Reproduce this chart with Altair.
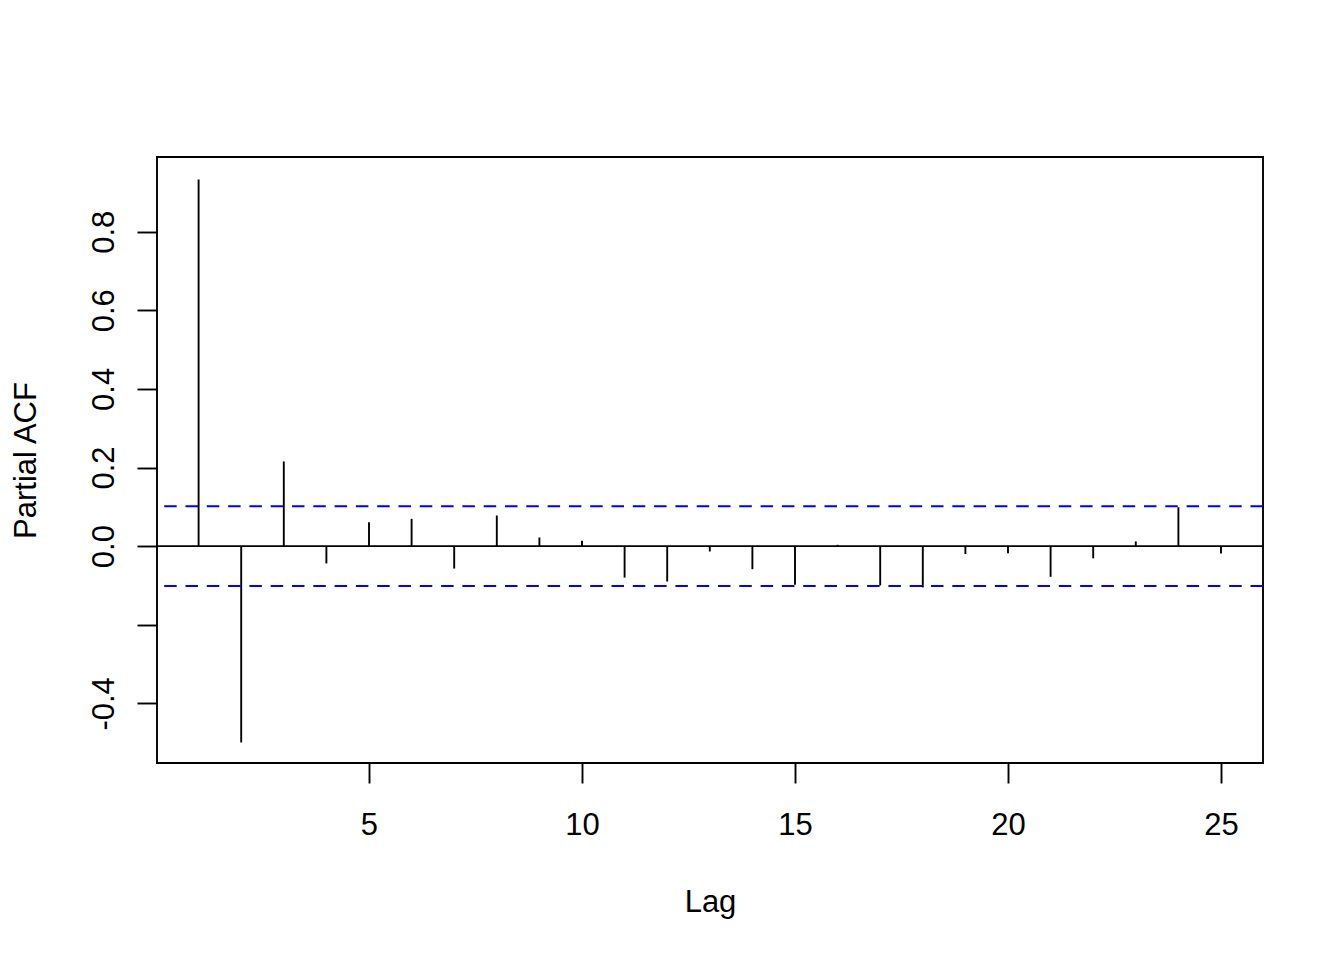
import altair as alt
import pandas as pd

lags = list(range(1, 26))
pacf = [0.933, -0.4995, 0.2155, -0.044, 0.061, 0.0695, -0.057, 0.078, 0.022, 0.0135,
        -0.080, -0.090, -0.0136, -0.0585, -0.098, 0.0034, -0.100, -0.105, -0.020, -0.018,
        -0.078, -0.031, 0.012, 0.099, -0.019]
ci_bounds = [0.1015, -0.1015]
x_ticks = [5, 10, 15, 20, 25]
y_ticks = [-0.4, -0.2, 0.0, 0.2, 0.4, 0.6, 0.8]

df = pd.DataFrame({"lag": lags, "pacf": pacf, "base": [0.0] * len(lags)})
ci_df = pd.DataFrame({"ci": ci_bounds})
zero_df = pd.DataFrame({"z": [0.0]})

FONT = "Liberation Sans"
FS = 31

x_scale = alt.Scale(domain=[0.0235, 25.986], nice=False, zero=False)
y_scale = alt.Scale(domain=[-0.5517, 0.990], nice=False, zero=False)

x_axis = alt.Axis(
    values=x_ticks, title="Lag", grid=False, domain=False,
    tickSize=20, tickWidth=1.9, tickColor="black",
    labelFont=FONT, labelFontSize=FS, labelColor="black",
    labelBaseline="alphabetic", labelPadding=51, labelFlush=False, labelOverlap=False,
    titleFont=FONT, titleFontSize=FS, titleFontWeight="normal", titleColor="black",
    titleBaseline="alphabetic", titleX=553, titleY=148, titleAlign="center",
)
y_axis = alt.Axis(
    values=y_ticks, title="Partial ACF", grid=False, domain=False,
    tickSize=20, tickWidth=1.9, tickColor="black",
    labelFont=FONT, labelFontSize=FS, labelColor="black",
    labelAngle=270, labelAlign="center", labelBaseline="alphabetic", labelPadding=24,
    labelFlush=False, labelOverlap=False,
    labelExpr="abs(datum.value + 0.2) < 1e-6 ? '' : replace(format(datum.value, '.1f'), '\u2212', '-')",
    titleFont=FONT, titleFontSize=FS, titleFontWeight="normal", titleColor="black",
    titleAngle=270, titleBaseline="alphabetic", titleAlign="center",
    titleX=-122, titleY=303,
)

bars = alt.Chart(df).mark_rule(color="black", strokeWidth=1.9).encode(
    x=alt.X("lag:Q", scale=x_scale, axis=x_axis),
    y=alt.Y("pacf:Q", scale=y_scale, axis=y_axis),
    y2="base:Q",
)

zero = alt.Chart(zero_df).mark_rule(color="black", strokeWidth=1.9).encode(
    y=alt.Y("z:Q", scale=y_scale)
)

ci = alt.Chart(ci_df).mark_rule(color="#0000FF", strokeWidth=1.9, strokeDash=[12.5, 8.8]).encode(
    y=alt.Y("ci:Q", scale=y_scale)
)

chart = alt.layer(zero, bars, ci).properties(
    width=1106, height=606,
    autosize=alt.AutoSizeParams(type="none"),
    padding={"left": 149, "top": 149, "right": 60, "bottom": 180},
    background="white",
).configure_view(stroke="black", strokeWidth=1.9)

chart.save("out.html", embed_options={"renderer": "svg", "actions": False})
